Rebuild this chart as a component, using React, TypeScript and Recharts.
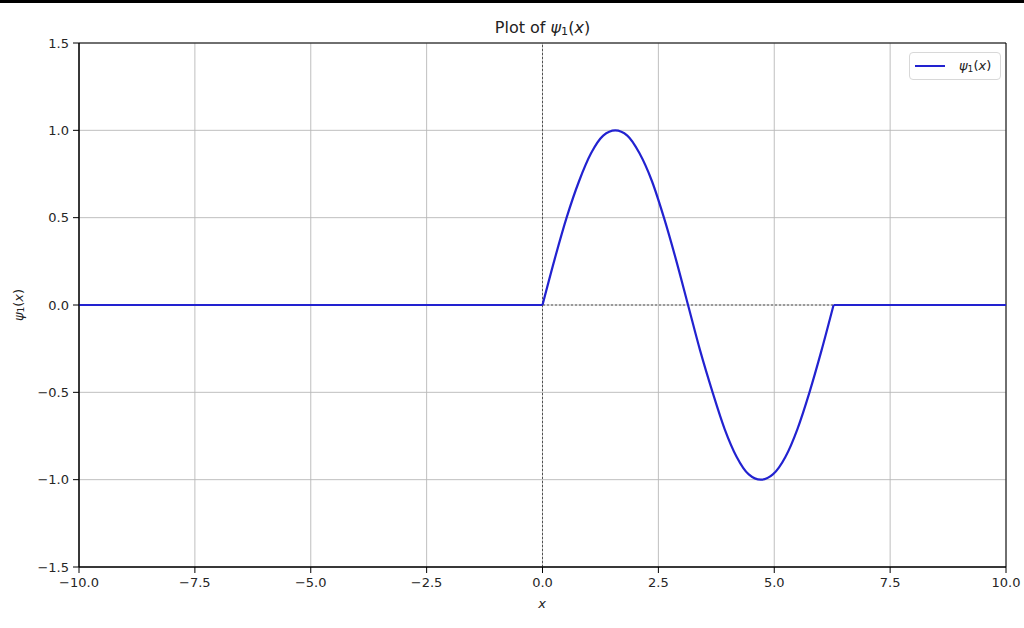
import {
  CartesianGrid,
  Line,
  LineChart,
  ReferenceArea,
  ReferenceLine,
  XAxis,
  YAxis,
} from "recharts";

// psi_1(x): zero outside [0, 2pi], one sine period inside
const waveX = [
  0, 0.26, 0.52, 0.79, 1.05, 1.31, 1.57, 1.83, 2.09, 2.36, 2.62, 2.88, 3.14,
  3.4, 3.67, 3.93, 4.19, 4.45, 4.71, 4.97, 5.24, 5.5, 5.76, 6.02, 6.28,
];
const waveY = [
  0, 0.26, 0.5, 0.71, 0.87, 0.97, 1, 0.97, 0.87, 0.71, 0.5, 0.26, 0, -0.26,
  -0.5, -0.71, -0.87, -0.97, -1, -0.97, -0.87, -0.71, -0.5, -0.26, 0,
];
const flatX = [-10, 0, 3.14, 6.28, 10];
const flatY: (number | null)[] = [0, 0, null, 0, 0];

const xTicks = [-10, -7.5, -5, -2.5, 0, 2.5, 5, 7.5, 10];
const yTicks = [-1.5, -1, -0.5, 0, 0.5, 1, 1.5];

const waveData = waveX.map((x, i) => ({ x, y: waveY[i] }));
const flatData = flatX.map((x, i) => ({ x, y: flatY[i] }));

const BLUE = "#2222d0";
const FONT = "'DejaVu Sans', sans-serif";
const fmt = (v: number) => v.toFixed(1).replace("-", "\u2212");

const tick = { fill: "#262626", fontSize: 13, fontFamily: FONT };

function Psi({ size }: { size: number }) {
  return (
    <span style={{ fontFamily: FONT, fontSize: size }}>
      <i>ψ</i>
      <span style={{ fontSize: size * 0.7, verticalAlign: "-0.2em" }}>1</span>(<i>x</i>)
    </span>
  );
}

function LegendBox() {
  return (
    <div
      style={{
        position: "absolute",
        left: 909,
        top: 52,
        border: "1px solid #d8d8d8",
        borderRadius: 4,
        background: "rgba(255,255,255,0.85)",
        padding: "5px 9px 5px 5px",
        display: "flex",
        alignItems: "center",
        gap: 14,
        color: "#222",
      }}
    >
      <div style={{ width: 30, height: 2, background: BLUE }} />
      <Psi size={13} />
    </div>
  );
}

export default function App() {
  return (
    <div
      style={{
        position: "absolute",
        left: 0,
        top: 0,
        width: 1024,
        height: 628,
        background: "#fff",
        fontFamily: FONT,
      }}
    >
      <LineChart
        width={1024}
        height={628}
        margin={{ top: 43, right: 18, left: 0, bottom: 0 }}
        style={{ position: "absolute", left: 0, top: 0 }}
      >
        <CartesianGrid stroke="#b8b8b8" strokeWidth={0.9} />
        <XAxis
          type="number"
          dataKey="x"
          domain={[-10, 10]}
          ticks={xTicks}
          tickFormatter={fmt}
          height={61}
          tickSize={6}
          tickMargin={5}
          axisLine={{ stroke: "#000" }}
          tickLine={{ stroke: "#000" }}
          tick={tick}
          allowDataOverflow
        />
        <YAxis
          type="number"
          dataKey="y"
          domain={[-1.5, 1.5]}
          ticks={yTicks}
          tickFormatter={fmt}
          width={79}
          tickSize={6}
          tickMargin={4}
          axisLine={{ stroke: "#000" }}
          tickLine={{ stroke: "#000" }}
          tick={tick}
          allowDataOverflow
        />
        <ReferenceArea x1={-10} x2={10} y1={-1.5} y2={1.5} fill="none" stroke="#000" strokeWidth={1} />
        <ReferenceLine y={0} stroke="#333" strokeWidth={0.8} strokeDasharray="2 2" />
        <ReferenceLine x={0} stroke="#333" strokeWidth={0.8} strokeDasharray="2 2" />
        <Line
          data={flatData}
          dataKey="y"
          type="linear"
          stroke={BLUE}
          strokeWidth={2.2}
          dot={false}
          connectNulls={false}
          legendType="none"
          isAnimationActive={false}
        />
        <Line
          data={waveData}
          dataKey="y"
          name="ψ1(x)"
          type="monotone"
          stroke={BLUE}
          strokeWidth={2.2}
          dot={false}
          isAnimationActive={false}
        />
      </LineChart>
      <div style={{ position: "absolute", left: 0, top: 0, width: 1024, height: 3, background: "#000" }} />
      <div
        style={{
          position: "absolute",
          left: 0,
          width: 1085,
          top: 18,
          textAlign: "center",
          fontSize: 16,
          color: "#222",
        }}
      >
        Plot of <Psi size={16} />
      </div>
      <div
        style={{
          position: "absolute",
          left: 17,
          top: 305,
          transform: "translate(-50%, -50%) rotate(-90deg)",
          color: "#222",
          whiteSpace: "nowrap",
        }}
      >
        <Psi size={13} />
      </div>
      <div
        style={{
          position: "absolute",
          left: 542,
          top: 596,
          transform: "translateX(-50%)",
          fontSize: 13,
          fontStyle: "italic",
          color: "#222",
        }}
      >
        x
      </div>
      <LegendBox />
    </div>
  );
}
